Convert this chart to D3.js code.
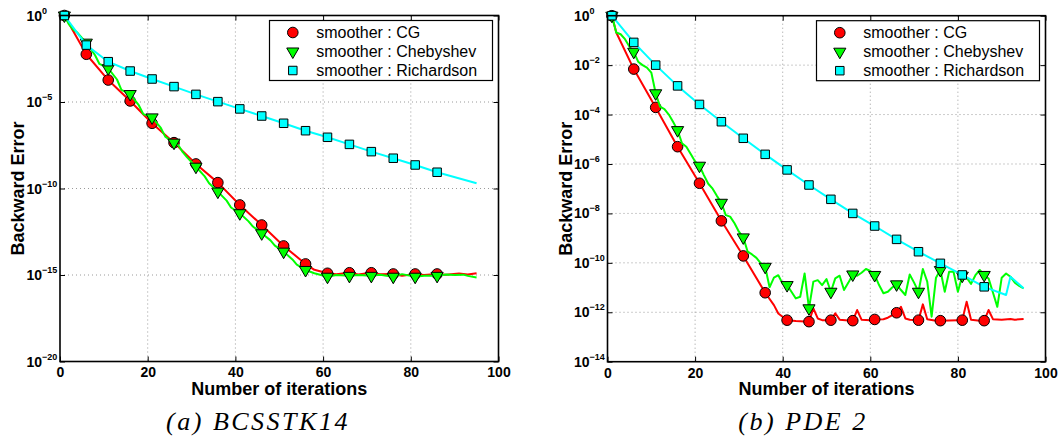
<!DOCTYPE html>
<html>
<head>
<meta charset="utf-8">
<script src="https://cdn.jsdelivr.net/npm/d3@7"></script>
<style>
  body { margin: 0; background: #fff; }
  svg { display: block; }
</style>
</head>
<body>
<svg id="chart" width="1058" height="443"></svg>
<script>
const seriesNames = ["smoother : CG", "smoother : Chebyshev", "smoother : Richardson"];
const seriesColors = ["#ff0000", "#00ff00", "#00ffff"];
const seriesShapes = ["circle", "triangle", "square"];

const iterTicks = [0, 20, 40, 60, 80, 100];
const bcsExpTicks = [0, -5, -10, -15, -20];
const pdeExpTicks = [0, -2, -4, -6, -8, -10, -12, -14];

// [iteration, log10(backward error)]
const bcsCg = [[1,0],[6,-2.24],[11,-3.73],[16,-4.94],[21,-6.23],[26,-7.35],[31,-8.58],[36,-9.66],[41,-10.95],
  [46,-12.11],[51,-13.32],[56,-14.36],[58,-14.7],[61,-14.9],[63,-14.95],[66,-14.87],[68,-14.97],[71,-14.87],
  [73,-14.95],[76,-14.94],[78,-15.05],[81,-14.94],[83,-15.0],[86,-14.94],[88,-14.98],[91,-14.92],[93,-14.97],[95,-14.9]];

const bcsCheb = [[1,0],[2,-0.5],[3,-0.8],[4,-1.0],[5,-1.3],[6,-1.57],[8,-2.3],[9,-2.8],[11,-3.05],[13,-3.7],
  [14,-4.3],[16,-4.54],[18,-5.2],[19,-5.7],[21,-5.89],[23,-6.5],[24,-7.0],[26,-7.35],[27,-7.5],[28,-7.9],
  [29,-8.2],[31,-8.74],[33,-9.3],[34,-9.7],[36,-10.18],[38,-10.7],[39,-11.1],[41,-11.43],[43,-11.9],[44,-12.2],
  [46,-12.59],[48,-13.0],[49,-13.3],[51,-13.65],[53,-14.1],[54,-14.4],[56,-14.71],[58,-14.9],[61,-15.1],
  [63,-15.0],[66,-15.05],[68,-15.0],[71,-15.05],[73,-14.98],[76,-15.1],[78,-14.95],[81,-15.1],[83,-15.05],
  [86,-15.05],[88,-14.97],[90,-15.0],[92,-14.98],[93,-15.05],[95,-15.15]];

const bcsRich = [[1,0],[6,-1.71],[11,-2.67],[16,-3.21],[21,-3.67],[26,-4.11],[31,-4.56],[36,-4.98],[41,-5.40],
  [46,-5.81],[51,-6.23],[56,-6.66],[61,-7.04],[66,-7.45],[71,-7.87],[76,-8.25],[81,-8.64],[86,-9.06],[95,-9.70]];

const pdeCg = [[1,0],[2,-0.68],[6,-2.16],[11,-3.71],[16,-5.30],[21,-6.78],[26,-8.30],[31,-9.72],[36,-11.21],
  [38,-11.71],[39,-12.05],[41,-12.32],[43,-12.35],[44,-12.36],[46,-12.38],[47,-11.84],[48,-12.25],[49,-12.32],
  [51,-12.32],[52,-12.04],[53,-12.3],[55,-12.33],[56,-12.34],[57,-11.91],[58,-12.3],[60,-12.32],[61,-12.29],
  [63,-12.28],[64,-12.22],[66,-12.02],[67,-11.78],[68,-12.25],[69,-12.3],[71,-12.32],[72,-11.68],[73,-12.28],
  [75,-12.34],[76,-12.34],[78,-12.33],[80,-12.32],[81,-12.32],[82,-11.57],[83,-12.3],[85,-12.34],[86,-12.34],
  [87,-11.91],[88,-12.28],[90,-12.3],[92,-12.27],[93,-12.3],[95,-12.27]];

const pdeCheb = [[1,0],[2,-0.68],[3,-0.75],[4,-0.95],[5,-1.25],[6,-1.46],[7,-1.86],[8,-2.0],[9,-2.1],[10,-2.3],
  [11,-3.14],[12,-3.68],[13,-3.78],[14,-4.0],[15,-4.3],[16,-4.63],[17,-5.16],[18,-5.3],[19,-5.6],[20,-5.9],
  [21,-6.07],[22,-6.45],[23,-6.8],[24,-7.0],[25,-7.3],[26,-7.57],[27,-8.07],[28,-8.13],[29,-8.4],[30,-8.74],
  [31,-8.97],[32,-9.55],[33,-9.66],[34,-9.8],[35,-10.02],[36,-10.16],[37,-10.99],[38,-10.6],[39,-10.5],
  [40,-10.85],[41,-10.9],[42,-11.17],[43,-11.44],[44,-11.37],[45,-10.43],[46,-11.84],[47,-10.76],[48,-10.7],
  [49,-10.9],[50,-10.66],[51,-11.17],[52,-10.63],[53,-10.52],[54,-11.1],[55,-10.8],[56,-10.47],[57,-10.52],
  [58,-10.4],[59,-10.25],[60,-10.33],[61,-10.49],[62,-10.9],[63,-11.23],[64,-11.17],[65,-11.0],[66,-10.87],
  [67,-11.1],[68,-11.30],[69,-10.47],[70,-10.8],[71,-11.17],[72,-10.25],[73,-10.76],[74,-12.18],[75,-10.6],
  [76,-10.29],[77,-11.17],[78,-10.36],[79,-10.36],[80,-11.17],[81,-10.52],[82,-10.6],[83,-10.85],[84,-10.5],
  [85,-10.29],[86,-10.49],[87,-10.63],[88,-11.2],[89,-11.78],[90,-10.6],[91,-10.43],[92,-10.56],[93,-10.8],
  [94,-10.93],[95,-11.03]];

const pdeRich = [[1,0],[6,-1.08],[11,-2.0],[16,-2.84],[21,-3.59],[26,-4.29],[31,-4.96],[36,-5.61],[41,-6.24],
  [46,-6.85],[51,-7.43],[56,-8.0],[61,-8.51],[66,-9.05],[71,-9.55],[76,-10.02],[81,-10.49],[86,-10.97],
  [91,-11.30],[92,-10.56],[95,-11.03]];

const markerIters = d3.range(1, 87, 5);

const svg = d3.select("#chart");
const boldFont = "Liberation Sans, Arial, sans-serif";

function markerPath(shape) {
  if (shape === "circle") return d3.symbol(d3.symbolCircle, Math.PI * 5.3 * 5.3)();
  if (shape === "square") return d3.symbol(d3.symbolSquare, 8.5 * 8.5)();
  return d3.symbol(d3.symbolTriangle, 64)();
}

function markerTransform(shape, cx, cy) {
  return shape === "triangle"
    ? `translate(${cx},${cy}) rotate(180)`
    : `translate(${cx},${cy})`;
}

function drawPanel(p) {
  const g = svg.append("g").attr("transform", `translate(${p.left},${p.top})`);

  const x = d3.scaleLinear().domain([0, 100]).range([0, p.width]);
  const y = d3.scaleLog().domain([Math.pow(10, d3.min(p.expTicks)), 1]).range([p.height, 0]);

  // dotted grid
  g.append("g").selectAll("line").data(iterTicks.slice(1, -1)).join("line")
    .attr("x1", (d) => x(d)).attr("x2", (d) => x(d))
    .attr("y1", 0).attr("y2", p.height)
    .attr("stroke", "#9a9a9a").attr("stroke-width", 1).attr("stroke-dasharray", "1,3");
  g.append("g").selectAll("line").data(p.expTicks.slice(1, -1)).join("line")
    .attr("x1", 0).attr("x2", p.width)
    .attr("y1", (d) => y(Math.pow(10, d))).attr("y2", (d) => y(Math.pow(10, d)))
    .attr("stroke", "#9a9a9a").attr("stroke-width", 1).attr("stroke-dasharray", "1,3");

  // tick marks on all sides
  const yVals = p.expTicks.map((e) => Math.pow(10, e));
  const xAxisG = g.append("g").attr("transform", `translate(0,${p.height})`)
    .call(d3.axisBottom(x).tickValues(iterTicks).tickSize(-5).tickPadding(6).tickFormat(d3.format("d")));
  xAxisG.selectAll("text")
    .attr("font-family", boldFont).attr("font-size", 14).attr("font-weight", "bold").attr("fill", "#000");
  g.append("g").call(d3.axisTop(x).tickValues(iterTicks).tickSize(-5).tickFormat(""));
  g.append("g").call(d3.axisLeft(y).tickValues(yVals).tickSize(-5).tickFormat(""));
  g.append("g").attr("transform", `translate(${p.width},0)`)
    .call(d3.axisRight(y).tickValues(yVals).tickSize(-5).tickFormat(""));
  g.selectAll(".domain").remove();
  g.selectAll(".tick line").attr("stroke", "#000");

  // y tick labels 10^e
  const yLab = g.append("g").selectAll("text").data(p.expTicks).join("text")
    .attr("x", -33.5)
    .attr("y", (d) => y(Math.pow(10, d)) + 5)
    .attr("font-family", boldFont).attr("font-weight", "bold").attr("font-size", 14);
  yLab.append("tspan").text("10");
  yLab.append("tspan").attr("font-size", 9).attr("dy", -7)
    .text((d) => (d < 0 ? "\u2212" + (-d) : String(d)));

  // series
  p.series.forEach((s, i) => {
    const line = d3.line()
      .x((d) => x(d[0]))
      .y((d) => y(Math.pow(10, d[1])));
    g.append("path").datum(s)
      .attr("d", line)
      .attr("fill", "none")
      .attr("stroke", seriesColors[i])
      .attr("stroke-width", 2)
      .attr("stroke-linejoin", "round");
    const pts = s.filter((d) => markerIters.includes(d[0]));
    g.append("g").selectAll("path").data(pts).join("path")
      .attr("d", markerPath(seriesShapes[i]))
      .attr("transform", (d) => markerTransform(seriesShapes[i], x(d[0]), y(Math.pow(10, d[1]))))
      .attr("fill", seriesColors[i])
      .attr("stroke", "#000")
      .attr("stroke-width", 1);
  });

  // axes box
  g.append("rect")
    .attr("width", p.width).attr("height", p.height)
    .attr("fill", "none").attr("stroke", "#000").attr("stroke-width", 1.6);

  // legend
  const lw = 223, lh = 60;
  const lg = g.append("g").attr("transform", `translate(${p.width - 6 - lw},5)`);
  lg.append("rect").attr("width", lw).attr("height", lh)
    .attr("fill", "#fff").attr("stroke", "#000").attr("stroke-width", 1.2);
  seriesNames.forEach((name, i) => {
    const ry = 12 + i * 19;
    lg.append("path")
      .attr("d", markerPath(seriesShapes[i]))
      .attr("transform", markerTransform(seriesShapes[i], 23.3, ry))
      .attr("fill", seriesColors[i]).attr("stroke", "#000").attr("stroke-width", 1);
    lg.append("text")
      .attr("x", 46.7).attr("y", ry + 5.6)
      .attr("font-family", boldFont).attr("font-size", 16)
      .text(name);
  });

  // axis titles
  g.append("text")
    .attr("x", p.width / 2).attr("y", p.height + 33.5)
    .attr("text-anchor", "middle")
    .attr("font-family", boldFont).attr("font-weight", "bold").attr("font-size", 18)
    .text("Number of iterations");
  g.append("text")
    .attr("transform", `translate(-36,${p.height / 2}) rotate(-90)`)
    .attr("text-anchor", "middle")
    .attr("font-family", boldFont).attr("font-weight", "bold").attr("font-size", 18)
    .text("Backward Error");

  // caption
  svg.append("text")
    .attr("x", p.captionX).attr("y", 430)
    .attr("text-anchor", "middle")
    .attr("font-family", "Liberation Serif, Times New Roman, serif")
    .attr("font-style", "italic").attr("font-size", 26)
    .attr("letter-spacing", 2.5)
    .text(p.caption);
}

drawPanel({
  left: 60, top: 15.5, width: 438.5, height: 346,
  expTicks: bcsExpTicks,
  series: [bcsCg, bcsCheb, bcsRich],
  caption: "(a) BCSSTK14", captionX: 258
});

drawPanel({
  left: 607.5, top: 15.7, width: 438, height: 346,
  expTicks: pdeExpTicks,
  series: [pdeCg, pdeCheb, pdeRich],
  caption: "(b) PDE 2", captionX: 803
});
</script>
</body>
</html>
